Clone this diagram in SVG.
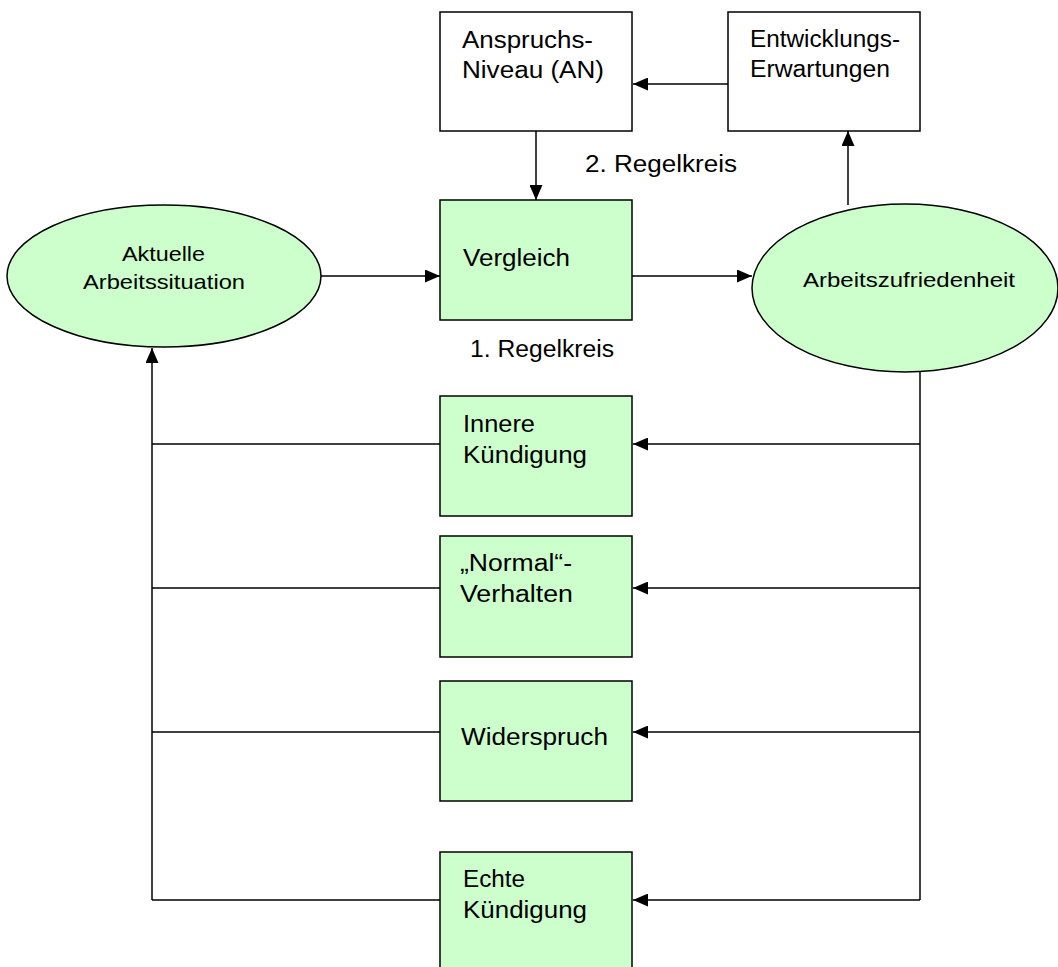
<svg xmlns="http://www.w3.org/2000/svg" width="1058" height="967" viewBox="0 0 1058 967">
  <style>
    .box { fill: #ffffff; stroke: #000000; stroke-width: 1.5; }
    .green { fill: #ccffcc; stroke: #000000; stroke-width: 1.5; }
    .lbl { font-family: "Liberation Sans", Arial, sans-serif; font-size: 23px; fill: #000000; }
    .small { font-family: "Liberation Sans", Arial, sans-serif; font-size: 21px; fill: #000000; }
    .wire { fill: none; stroke: #000000; stroke-width: 1.5; }
  </style>
  <defs>
    <marker id="arrow" viewBox="0 0 15 13" refX="15" refY="6.5" markerWidth="15" markerHeight="13" markerUnits="userSpaceOnUse" orient="auto">
      <path d="M0,0 L15,6.5 L0,13 Z" fill="#000000"/>
    </marker>
  </defs>
  <rect width="1058" height="967" fill="#ffffff"/>

  <!-- connectors -->
  <g id="connectors" class="wire">
    <line x1="728" y1="84" x2="633" y2="84" marker-end="url(#arrow)"/>
    <line x1="536" y1="131" x2="536" y2="200" marker-end="url(#arrow)"/>
    <line x1="321" y1="276" x2="440" y2="276" marker-end="url(#arrow)"/>
    <line x1="632" y1="276" x2="752" y2="276" marker-end="url(#arrow)"/>
    <line x1="848" y1="205" x2="848" y2="131" marker-end="url(#arrow)"/>
    <!-- right bus from Arbeitszufriedenheit -->
    <line x1="920" y1="372" x2="920" y2="900"/>
    <line x1="920" y1="444" x2="633" y2="444" marker-end="url(#arrow)"/>
    <line x1="920" y1="588" x2="633" y2="588" marker-end="url(#arrow)"/>
    <line x1="920" y1="732" x2="633" y2="732" marker-end="url(#arrow)"/>
    <line x1="920" y1="900" x2="633" y2="900" marker-end="url(#arrow)"/>
    <!-- left feedback bus to Aktuelle Arbeitssituation -->
    <line x1="440" y1="444" x2="152" y2="444"/>
    <line x1="440" y1="588" x2="152" y2="588"/>
    <line x1="440" y1="732" x2="152" y2="732"/>
    <line x1="440" y1="900" x2="152" y2="900"/>
    <line x1="152" y1="900" x2="152" y2="348" marker-end="url(#arrow)"/>
  </g>

  <g id="anspruchsniveau">
    <rect class="box" x="440" y="12" width="192" height="119"/>
    <text class="lbl" x="462" y="48" textLength="131" lengthAdjust="spacingAndGlyphs">Anspruchs-</text>
    <text class="lbl" x="462" y="78" textLength="142" lengthAdjust="spacingAndGlyphs">Niveau (AN)</text>
  </g>

  <g id="entwicklungserwartungen">
    <rect class="box" x="728" y="12" width="192" height="119"/>
    <text class="lbl" x="750" y="47" textLength="150" lengthAdjust="spacingAndGlyphs">Entwicklungs-</text>
    <text class="lbl" x="750" y="77" textLength="140" lengthAdjust="spacingAndGlyphs">Erwartungen</text>
  </g>

  <g id="label-regelkreis-2">
    <text class="lbl" x="585" y="172" textLength="152" lengthAdjust="spacingAndGlyphs">2. Regelkreis</text>
  </g>

  <g id="aktuelle-arbeitssituation">
    <ellipse class="green" cx="164" cy="276" rx="157" ry="71"/>
    <text class="small" x="122" y="261" textLength="83" lengthAdjust="spacingAndGlyphs">Aktuelle</text>
    <text class="small" x="83" y="289" textLength="162" lengthAdjust="spacingAndGlyphs">Arbeitssituation</text>
  </g>

  <g id="vergleich">
    <rect class="green" x="440" y="200" width="192" height="120"/>
    <text class="lbl" x="463" y="266" textLength="107" lengthAdjust="spacingAndGlyphs">Vergleich</text>
  </g>

  <g id="arbeitszufriedenheit">
    <ellipse class="green" cx="905" cy="288" rx="153" ry="84"/>
    <text class="small" x="803" y="287" textLength="212" lengthAdjust="spacingAndGlyphs">Arbeitszufriedenheit</text>
  </g>

  <g id="label-regelkreis-1">
    <text class="lbl" x="470" y="357" textLength="144" lengthAdjust="spacingAndGlyphs">1. Regelkreis</text>
  </g>

  <g id="innere-kuendigung">
    <rect class="green" x="440" y="396" width="192" height="120"/>
    <text class="lbl" x="463" y="432" textLength="72" lengthAdjust="spacingAndGlyphs">Innere</text>
    <text class="lbl" x="463" y="463" textLength="124" lengthAdjust="spacingAndGlyphs">Kündigung</text>
  </g>

  <g id="normal-verhalten">
    <rect class="green" x="440" y="536" width="192" height="121"/>
    <text class="lbl" x="460" y="571" textLength="112" lengthAdjust="spacingAndGlyphs">„Normal“-</text>
    <text class="lbl" x="460" y="602" textLength="113" lengthAdjust="spacingAndGlyphs">Verhalten</text>
  </g>

  <g id="widerspruch">
    <rect class="green" x="440" y="681" width="192" height="120"/>
    <text class="lbl" x="461" y="745" textLength="147" lengthAdjust="spacingAndGlyphs">Widerspruch</text>
  </g>

  <g id="echte-kuendigung">
    <rect class="green" x="440" y="852" width="192" height="125"/>
    <text class="lbl" x="463" y="887" textLength="62" lengthAdjust="spacingAndGlyphs">Echte</text>
    <text class="lbl" x="463" y="918" textLength="124" lengthAdjust="spacingAndGlyphs">Kündigung</text>
  </g>
</svg>
